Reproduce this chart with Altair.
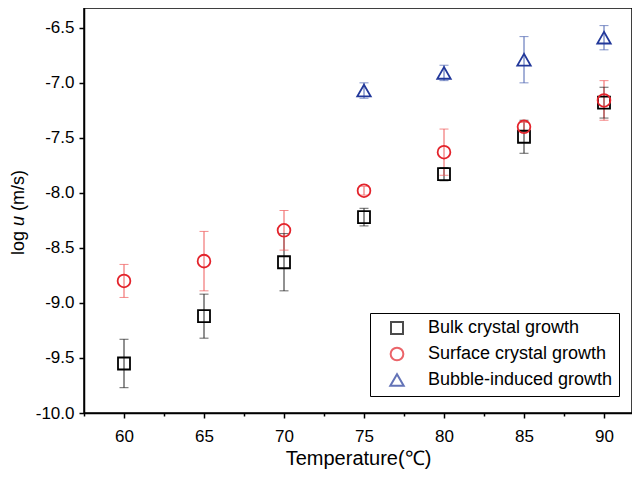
import altair as alt
import pandas as pd

# ---- data ----
series_names = ["Bulk crystal growth", "Surface crystal growth", "Bubble-induced growth"]

bulk_T = [60, 65, 70, 75, 80, 85, 90]
bulk_v = [-9.55, -9.12, -8.63, -8.22, -7.83, -7.49, -7.18]
bulk_e = [0.22, 0.20, 0.26, 0.08, 0.06, 0.15, 0.14]

surf_T = [60, 65, 70, 75, 80, 85, 90]
surf_v = [-8.80, -8.62, -8.34, -7.98, -7.63, -7.40, -7.16]
surf_e = [0.15, 0.27, 0.18, 0.04, 0.21, 0.04, 0.18]

bub_T = [75, 80, 85, 90]
bub_v = [-7.07, -6.91, -6.79, -6.59]
bub_e = [0.07, 0.07, 0.21, 0.11]

x_ticks = [57.5, 60, 62.5, 65, 67.5, 70, 72.5, 75, 77.5, 80, 82.5, 85, 87.5, 90]
y_ticks = [-10.0, -9.75, -9.5, -9.25, -9.0, -8.75, -8.5, -8.25, -8.0, -7.75,
           -7.5, -7.25, -7.0, -6.75, -6.5]

point_colors = ["#000000", "#e3232b", "#22389a"]
bar_colors = ["#222222", "#ef5a5a", "#4a62b0"]
shapes = ["square", "circle", "triangle-up"]
sizes = [144, 180, 230]

rows = []
for name, T, v, e, bc in zip(series_names, [bulk_T, surf_T, bub_T],
                             [bulk_v, surf_v, bub_v], [bulk_e, surf_e, bub_e], bar_colors):
    for t, val, err in zip(T, v, e):
        rows.append({"T": t, "v": val, "lo": val - err, "hi": val + err,
                     "series": name, "ecolor": bc})
df = pd.DataFrame(rows)

FONT = "Liberation Sans"

xscale = alt.Scale(domain=[57.5, 91.75], nice=False, zero=False)
yscale = alt.Scale(domain=[-10.0, -6.32], nice=False, zero=False)

x_axis = alt.Axis(
    values=x_ticks,
    labelExpr="datum.value % 5 === 0 ? format(datum.value, 'd') : ''",
    tickSize={"condition": {"test": "datum.value % 5 === 0", "value": 5}, "value": 3},
    title="Temperature(℃)", titlePadding=4, labelPadding=10,
)
y_axis = alt.Axis(
    values=y_ticks,
    labelExpr="datum.value % 0.5 === 0 ? replace(format(datum.value, '.1f'), '−', '-') : ''",
    tickSize={"condition": {"test": "datum.value % 0.5 === 0", "value": 5}, "value": 3},
    title=None, labelPadding=5,
)

base = alt.Chart(df)

rules = base.mark_rule(strokeWidth=1).encode(
    x=alt.X("T:Q", scale=xscale, axis=x_axis),
    y=alt.Y("lo:Q", scale=yscale, axis=y_axis),
    y2="hi:Q",
    color=alt.Color("ecolor:N", scale=None),
)
caps_lo = base.mark_tick(orient="horizontal", size=9, thickness=1).encode(
    x=alt.X("T:Q", scale=xscale), y=alt.Y("lo:Q", scale=yscale),
    color=alt.Color("ecolor:N", scale=None),
)
caps_hi = base.mark_tick(orient="horizontal", size=9, thickness=1).encode(
    x=alt.X("T:Q", scale=xscale), y=alt.Y("hi:Q", scale=yscale),
    color=alt.Color("ecolor:N", scale=None),
)
points = base.mark_point(filled=False, strokeWidth=1.8, opacity=1).encode(
    x=alt.X("T:Q", scale=xscale),
    y=alt.Y("v:Q", scale=yscale),
    color=alt.Color("series:N", scale=alt.Scale(domain=series_names, range=point_colors),
                    legend=alt.Legend(title=None)),
    shape=alt.Shape("series:N", scale=alt.Scale(domain=series_names, range=shapes),
                    legend=alt.Legend(title=None)),
    size=alt.Size("series:N", scale=alt.Scale(domain=series_names, range=sizes), legend=None),
)

one = pd.DataFrame({"k": [0]})
t_log = alt.Chart(one).mark_text(text="log", angle=270, align="left", baseline="alphabetic",
                                 font=FONT, fontSize=18, color="black").encode(
    x=alt.value(-60), y=alt.value(247))
t_u = alt.Chart(one).mark_text(text="u", angle=270, align="center", baseline="alphabetic",
                               font=FONT, fontSize=18, fontStyle="italic", color="black").encode(
    x=alt.value(-60), y=alt.value(213))
t_ms = alt.Chart(one).mark_text(text="(m/s)", angle=270, align="left", baseline="alphabetic",
                                font=FONT, fontSize=18, color="black").encode(
    x=alt.value(-60), y=alt.value(203))

chart = alt.layer(rules, caps_lo, caps_hi, points, t_log, t_u, t_ms).properties(
    width=548, height=405,
    padding={"left": 76, "top": 0, "right": 0, "bottom": 58},
    autosize=alt.AutoSizeParams(type="none"),
).configure_view(
    stroke="black", strokeWidth=1.5
).configure_axis(
    grid=False, domainColor="black", domainWidth=1.5, tickColor="black", tickWidth=1.5,
    labelFont=FONT, labelFontSize=17, labelColor="black",
    titleFont=FONT, titleFontSize=20, titleColor="black", titleFontWeight="normal",
).configure_legend(
    orient="none", legendX=286, legendY=305, strokeColor="black", strokeWidth=1,
    padding=6, symbolOffset=12, labelOffset=22, labelFont=FONT, labelFontSize=18,
    labelColor="black", symbolSize=144, symbolStrokeWidth=2, rowPadding=5,
    fillColor="white", labelLimit=0,
)

chart.save("out.html", embed_options={"renderer": "svg", "actions": False})
